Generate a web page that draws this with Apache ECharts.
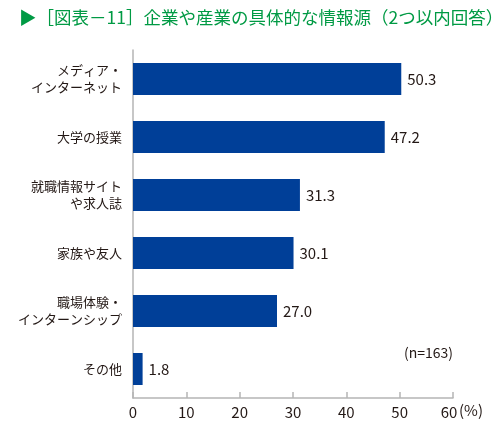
<!DOCTYPE html>
<html><head><meta charset="utf-8">
<script src="https://cdn.jsdelivr.net/npm/echarts@6/dist/echarts.min.js"></script>
<style>html,body{margin:0;padding:0;background:#fff}#c{width:500px;height:422px}</style>
</head><body><div id="c"></div>
<script>
const categories = ['メディア・\nインターネット','大学の授業','就職情報サイト\nや求人誌','家族や友人','職場体験・\nインターンシップ','その他'];
const values = [50.3, 47.2, 31.3, 30.1, 27.0, 1.8];
const xTicks = [0, 10, 20, 30, 40, 50, 60];
const titleText = '▶［図表－11］企業や産業の具体的な情報源（2つ以内回答）';
const noteText = '(n=163)';
const unitText = '(%)';

const font = '"Noto Sans CJK JP", "Noto Sans", sans-serif';
const chart = echarts.init(document.getElementById('c'), null, {renderer:'canvas'});
chart.setOption({
  animation:false,
  textStyle:{fontFamily:font},
  title:{text:titleText,left:14,top:4,textStyle:{color:'#009a44',fontSize:17.5,fontWeight:'normal',fontFamily:font}},
  grid:{left:133,right:47,top:50,bottom:24,containLabel:false},
  xAxis:{type:'value',min:xTicks[0],max:xTicks[xTicks.length-1],interval:10,
    axisLine:{show:true,lineStyle:{color:'#b5b5b5',width:1.5}},
    axisTick:{show:true,inside:true,length:6,lineStyle:{color:'#b5b5b5',width:1.5}},
    splitLine:{show:false},
    axisLabel:{color:'#231815',fontSize:15,margin:7,fontFamily:font,
      formatter:v=> v===xTicks[xTicks.length-1] ? '{s|'+v+'}' : String(v),
      rich:{s:{color:'#231815',fontSize:15,fontFamily:font,padding:[0,8,0,0]}}}
  },
  yAxis:{type:'category',data:categories,inverse:true,
    axisLine:{show:true,lineStyle:{color:'#b5b5b5',width:1.5}},
    axisTick:{show:false},
    axisLabel:{color:'#231815',fontSize:13,margin:11,lineHeight:17,align:'right',fontFamily:font}
  },
  graphic:[
    {type:'text',right:47,top:346,style:{text:noteText,fill:'#231815',fontSize:14,fontFamily:font}},
    {type:'text',left:459,top:403,style:{text:unitText,fill:'#231815',fontSize:15,fontFamily:font}}
  ],
  series:[{type:'bar',data:values,barWidth:32,itemStyle:{color:'#003f98'},
    label:{show:true,position:'right',distance:6,color:'#231815',fontSize:15,fontFamily:font,
      formatter:p=>p.value.toFixed(1)}}]
});
</script></body></html>
